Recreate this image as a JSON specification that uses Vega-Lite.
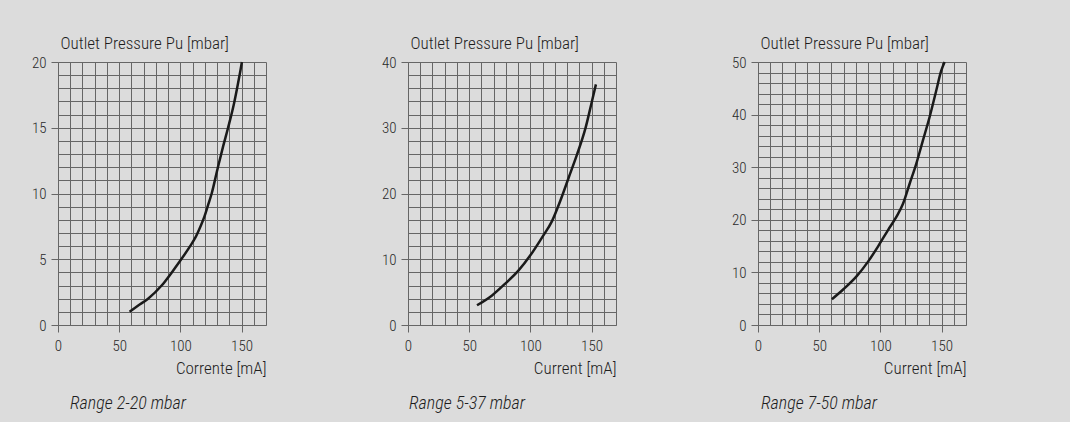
{
  "$schema": "https://vega.github.io/schema/vega-lite/v6.json",
  "background": "#dcdcdc",
  "padding": {"left": 31, "top": 34, "right": 104, "bottom": 10},
  "datasets": {
    "p1": [
      {"current": 58.5, "pressure": 1.0},
      {"current": 65, "pressure": 1.45},
      {"current": 73.6, "pressure": 2},
      {"current": 84.7, "pressure": 3},
      {"current": 93, "pressure": 4},
      {"current": 100, "pressure": 4.9},
      {"current": 108, "pressure": 6.0},
      {"current": 112, "pressure": 6.6},
      {"current": 116, "pressure": 7.4},
      {"current": 119.5, "pressure": 8.2},
      {"current": 122.6, "pressure": 9.1},
      {"current": 125.6, "pressure": 10},
      {"current": 130.7, "pressure": 12},
      {"current": 135, "pressure": 13.6},
      {"current": 139, "pressure": 15},
      {"current": 144, "pressure": 16.9},
      {"current": 147, "pressure": 18.3},
      {"current": 149, "pressure": 19.3},
      {"current": 150.3, "pressure": 20}
    ],
    "p2": [
      {"current": 56.4, "pressure": 3.0},
      {"current": 68.7, "pressure": 4.5},
      {"current": 79.5, "pressure": 6.3},
      {"current": 90.4, "pressure": 8.3},
      {"current": 100, "pressure": 10.6},
      {"current": 109.5, "pressure": 13.3},
      {"current": 117.7, "pressure": 15.8},
      {"current": 124.5, "pressure": 18.9},
      {"current": 131.3, "pressure": 22.4},
      {"current": 138.1, "pressure": 25.9},
      {"current": 145, "pressure": 29.9},
      {"current": 150.3, "pressure": 34},
      {"current": 153.6, "pressure": 36.6}
    ],
    "p3": [
      {"current": 60.4, "pressure": 4.9},
      {"current": 69.8, "pressure": 6.8},
      {"current": 80.7, "pressure": 9.3},
      {"current": 90.1, "pressure": 12.1},
      {"current": 98.3, "pressure": 15.0},
      {"current": 106.4, "pressure": 18.1},
      {"current": 113.2, "pressure": 20.6},
      {"current": 118.6, "pressure": 23.1},
      {"current": 124, "pressure": 26.9},
      {"current": 129.4, "pressure": 30.7},
      {"current": 134.8, "pressure": 35.1},
      {"current": 140.2, "pressure": 39.5},
      {"current": 145.6, "pressure": 44.5},
      {"current": 149.7, "pressure": 48.3},
      {"current": 152.5, "pressure": 50}
    ]
  },
  "spacing": 142,
  "bounds": "flush",
  "hconcat": [
    {
      "width": 208, "height": 263,
      "data": {"name": "p1"},
      "title": {"text": "Range 2-20 mbar", "dx": 12},
      "mark": {"type": "line", "color": "#1a1a1a", "strokeWidth": 2.5, "interpolate": "monotone"},
      "encoding": {
        "x": {"field": "current", "type": "quantitative",
          "scale": {"domain": [0, 170], "nice": false},
          "axis": {"title": "Corrente [mA]",
            "values": [0,10,20,30,40,50,60,70,80,90,100,110,120,130,140,150,160,170],
            "labelExpr": "datum.value % 50 === 0 ? datum.label : ''",
            "tickOpacity": {"condition": {"test": "datum.value % 50 === 0", "value": 1}, "value": 0}}},
        "y": {"field": "pressure", "type": "quantitative",
          "scale": {"domain": [0, 20], "nice": false},
          "axis": {"title": "Outlet Pressure Pu [mbar]",
            "values": [0,1,2,3,4,5,6,7,8,9,10,11,12,13,14,15,16,17,18,19,20],
            "labelExpr": "datum.value % 5 === 0 ? datum.label : ''",
            "tickOpacity": {"condition": {"test": "datum.value % 5 === 0", "value": 1}, "value": 0}}}
      }
    },
    {
      "width": 208, "height": 263,
      "data": {"name": "p2"},
      "title": {"text": "Range 5-37 mbar", "dx": 1},
      "mark": {"type": "line", "color": "#1a1a1a", "strokeWidth": 2.5, "interpolate": "monotone"},
      "encoding": {
        "x": {"field": "current", "type": "quantitative",
          "scale": {"domain": [0, 170], "nice": false},
          "axis": {"title": "Current [mA]",
            "values": [0,10,20,30,40,50,60,70,80,90,100,110,120,130,140,150,160,170],
            "labelExpr": "datum.value % 50 === 0 ? datum.label : ''",
            "tickOpacity": {"condition": {"test": "datum.value % 50 === 0", "value": 1}, "value": 0}}},
        "y": {"field": "pressure", "type": "quantitative",
          "scale": {"domain": [0, 40], "nice": false},
          "axis": {"title": "Outlet Pressure Pu [mbar]",
            "values": [0,2,4,6,8,10,12,14,16,18,20,22,24,26,28,30,32,34,36,38,40],
            "labelExpr": "datum.value % 10 === 0 ? datum.label : ''",
            "tickOpacity": {"condition": {"test": "datum.value % 10 === 0", "value": 1}, "value": 0}}}
      }
    },
    {
      "width": 208, "height": 263,
      "data": {"name": "p3"},
      "title": {"text": "Range 7-50 mbar", "dx": 3},
      "mark": {"type": "line", "color": "#1a1a1a", "strokeWidth": 2.5, "interpolate": "monotone"},
      "encoding": {
        "x": {"field": "current", "type": "quantitative",
          "scale": {"domain": [0, 170], "nice": false},
          "axis": {"title": "Current [mA]",
            "values": [0,10,20,30,40,50,60,70,80,90,100,110,120,130,140,150,160,170],
            "labelExpr": "datum.value % 50 === 0 ? datum.label : ''",
            "tickOpacity": {"condition": {"test": "datum.value % 50 === 0", "value": 1}, "value": 0}}},
        "y": {"field": "pressure", "type": "quantitative",
          "scale": {"domain": [0, 50], "nice": false},
          "axis": {"title": "Outlet Pressure Pu [mbar]",
            "values": [0,2,4,6,8,10,12,14,16,18,20,22,24,26,28,30,32,34,36,38,40,42,44,46,48,50],
            "labelExpr": "datum.value % 10 === 0 ? datum.label : ''",
            "tickOpacity": {"condition": {"test": "datum.value % 10 === 0", "value": 1}, "value": 0}}}
      }
    }
  ],
  "config": {
    "view": {"stroke": null},
    "font": "Roboto Condensed, Roboto",
    "title": {"orient": "bottom", "anchor": "start", "frame": "group", "font": "Roboto Condensed, Roboto", "fontSize": 18, "fontStyle": "italic", "fontWeight": 300, "color": "#1e1e1e", "offset": 19},
    "axis": {
      "grid": true, "gridColor": "#666666", "gridWidth": 1, "gridOpacity": 1,
      "domainColor": "#666666", "domainWidth": 1,
      "tickColor": "#666666", "tickWidth": 1, "tickSize": 7,
      "labelFont": "Roboto Condensed, Roboto", "labelFontSize": 15, "labelFontWeight": 300, "labelColor": "#2a2a2a",
      "labelOverlap": false, "labelFlush": false,
      "titleFont": "Roboto Condensed, Roboto", "titleFontSize": 17, "titleFontWeight": 300, "titleColor": "#1e1e1e"
    },
    "axisX": {"labelPadding": 6, "titleAnchor": "end", "titleAlign": "right", "titleX": 208, "titleY": 48, "titleBaseline": "alphabetic"},
    "axisY": {"labelPadding": 5, "titleAngle": 0, "titleAlign": "left", "titleBaseline": "alphabetic", "titleX": 2, "titleY": -14}
  }
}
